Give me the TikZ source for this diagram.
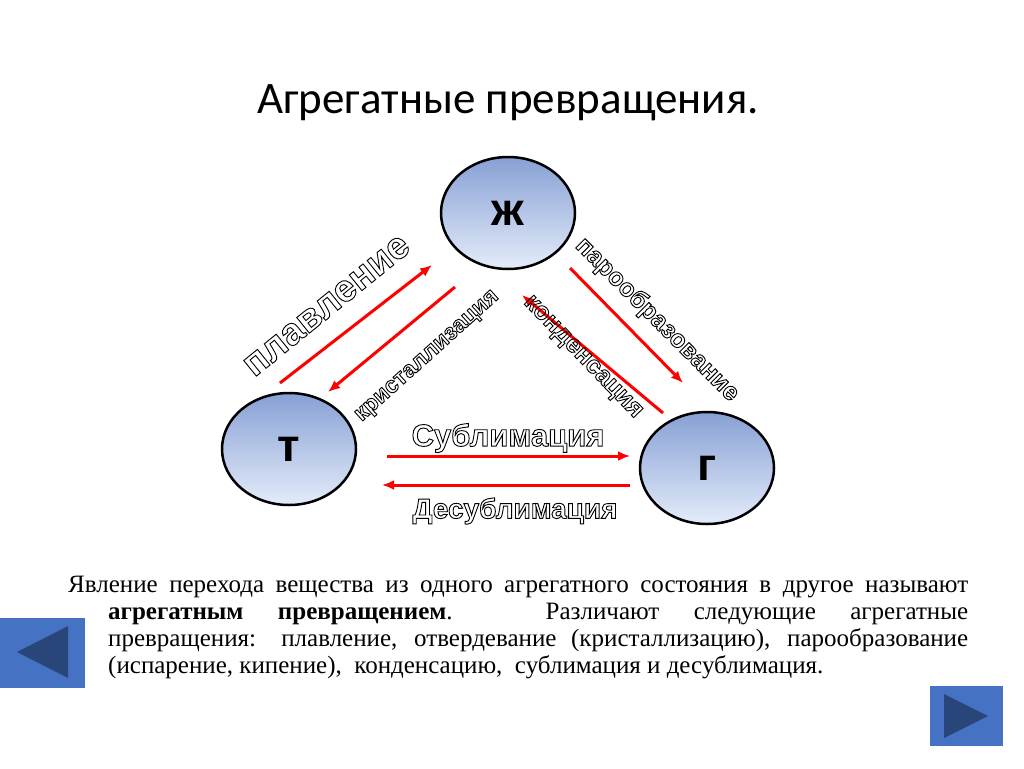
\documentclass[tikz,border=0pt]{standalone}
\usepackage{fontspec}
\setmainfont{Liberation Serif}
\newfontfamily\titlefont{Carlito}
\newfontfamily\labfont{Liberation Sans}
\newcommand{\outl}[1]{\special{pdf:literal direct 1 Tr 0.9 w}#1\special{pdf:literal direct 0 Tr}}
\definecolor{ctop}{RGB}{135,160,212}
\definecolor{cbot}{RGB}{228,236,250}
\definecolor{btnc}{RGB}{70,114,196}
\definecolor{tric}{RGB}{40,70,122}
\begin{document}
\begin{tikzpicture}[x=1pt,y=-1pt,
  phase/.style={draw=black,line width=2.5pt,ellipse,minimum width=134pt,minimum height=112pt,inner sep=0pt,
     top color=ctop,bottom color=cbot,font=\labfont\bfseries\fontsize{46}{46}\selectfont},
  arr/.style={draw=red,line width=3pt,-{Latex[length=12pt,width=10pt]}},
  lab/.style={font=\labfont\bfseries\fontsize{25}{25}\selectfont,inner sep=1pt},
  btn/.style={fill=btnc}]
\usetikzlibrary{shapes.geometric,arrows.meta}
\useasboundingbox (0,0) rectangle (1024,768);
\node[font=\titlefont\fontsize{45}{45}\selectfont] (title) at (508,103) {Агрегатные превращения.};
\node[phase] (zh) at (508,213) {ж};
\node[phase] (t) at (289,449) {т};
\node[phase] (g) at (707,468) {г};
\coordinate (a1) at (280,383); \coordinate (a2) at (432,265);
\coordinate (b1) at (455,287); \coordinate (b2) at (328,392);
\coordinate (c1) at (570,268); \coordinate (c2) at (683,383);
\coordinate (d1) at (663,413); \coordinate (d2) at (522,295);
\coordinate (e1) at (387,456); \coordinate (e2) at (630,456);
\coordinate (f1) at (630,485); \coordinate (f2) at (382,485);
\draw[arr] (a1) -- (a2);
\draw[arr] (b1) -- (b2);
\draw[arr] (c1) -- (c2);
\draw[arr] (d1) -- (d2);
\draw[arr] (e1) -- (e2);
\draw[arr] (f1) -- (f2);
\node[lab,rotate=39,font=\labfont\bfseries\fontsize{38}{38}\selectfont] (l1) at (327,306) {\outl{плавление}};
\node[lab,rotate=42,font=\labfont\bfseries\fontsize{23}{23}\selectfont] (l2) at (428,357) {\outl{кристаллизация}};
\node[lab,rotate=-45] (l3) at (657,320) {\outl{парообразование}};
\node[lab,rotate=-46] (l4) at (582,358) {\outl{конденсация}};
\node[lab,font=\labfont\bfseries\fontsize{31}{31}\selectfont] (l5) at (508,438) {\outl{Сублимация}};
\node[lab,font=\labfont\bfseries\fontsize{28}{28}\selectfont] (l6) at (515,511) {\outl{Десублимация}};
\begin{scope}[every node/.style={anchor=base west,inner sep=0pt,font=\fontsize{25}{25}\selectfont}]
\node (p1) at (68,592) {\makebox[900pt][s]{Явление перехода вещества из одного агрегатного состояния в другое называют}};
\node (p2) at (108,619) {\makebox[860pt][s]{\textbf{агрегатным превращением}. Различают следующие агрегатные}};
\node (p3) at (108,646) {\makebox[860pt][s]{превращения: плавление, отвердевание (кристаллизацию), парообразование}};
\node (p4) at (108,673) {(испарение, кипение), \ конденсацию, \ сублимация и десублимация.};
\end{scope}
\path[btn] (0,618) rectangle (85,688);
\fill[tric] (17,652) -- (68,626) -- (68,678) -- cycle;
\path[btn] (930,686) rectangle (1003,746);
\fill[tric] (988,716) -- (944,694) -- (944,738) -- cycle;
\end{tikzpicture}
\end{document}
